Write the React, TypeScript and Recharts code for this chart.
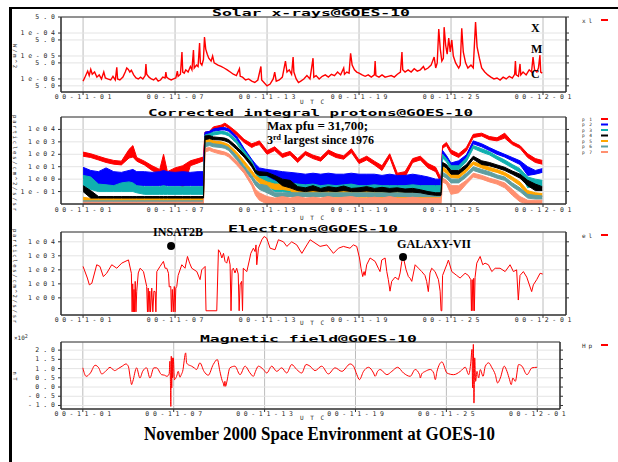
import React from 'react';
import {
  ComposedChart,
  Line,
  Area,
  XAxis,
  YAxis,
  CartesianGrid,
  ReferenceArea,
  ReferenceDot,
} from 'recharts';

// ---------- shared time axis (days since 2000-11-01 00:00 UTC) ----------
const dayTicks = [0, 6, 12, 18, 24, 30];
const dayTickLabels = ['00-11-01', '00-11-07', '00-11-13', '00-11-19', '00-11-25', '00-12-01'];
const dayDomain: [number, number] = [-1.44, 31.5];

// ---------- Solar x-rays (W/m^2) ----------
const xrayTicks = [5e-7, 1e-6, 5e-6, 1e-5, 5e-5, 1e-4, 5e-4];
const xrayTickLabels = ['5.0', '1e-06', '5.0', '1e-05', '5.0', '1e-04', '5.0'];
const xrayDomain: [number, number] = [2.7e-7, 5e-4];
const xrayDays = [
  0, 0.15, 0.3, 0.4, 0.5, 0.6, 0.75, 0.9, 1.05, 1.2, 1.35, 1.45, 1.6, 1.8, 1.95, 2.1, 2.2, 2.25, 2.4, 2.6,
  2.75, 2.85, 2.95, 3.05, 3.15, 3.3, 3.45, 3.6, 3.75, 3.9, 4.05, 4.1, 4.15, 4.3, 4.45, 4.6, 4.75, 4.9, 5.05, 5.2,
  5.35, 5.4, 5.45, 5.6, 5.75, 5.9, 6.05, 6.15, 6.2, 6.35, 6.45, 6.5, 6.6, 6.7, 6.85, 7.0, 7.1, 7.2, 7.25, 7.4,
  7.5, 7.6, 7.65, 7.75, 7.85, 7.92, 8.0, 8.1, 8.2, 8.35, 8.45, 8.55, 8.8, 9.0, 9.2, 9.4, 9.6, 9.8, 10.0, 10.2,
  10.25, 10.4, 10.6, 10.8, 11.0, 11.2, 11.4, 11.6, 11.65, 11.8, 12.0, 12.2, 12.4, 12.5, 12.6, 12.8, 13.0, 13.2, 13.3, 13.45,
  13.6, 13.7, 13.75, 13.9, 14.05, 14.2, 14.4, 14.6, 14.8, 15.0, 15.05, 15.2, 15.4, 15.6, 15.8, 16.0, 16.2, 16.4, 16.6, 16.8,
  17.0, 17.05, 17.2, 17.35, 17.45, 17.55, 17.7, 17.85, 18.0, 18.2, 18.4, 18.6, 18.8, 19.0, 19.05, 19.1, 19.3, 19.5, 19.7, 19.9,
  20.1, 20.3, 20.5, 20.7, 20.8, 20.85, 21.0, 21.2, 21.4, 21.6, 21.8, 22.0, 22.2, 22.3, 22.5, 22.7, 22.9, 23.0, 23.1, 23.2,
  23.3, 23.4, 23.5, 23.55, 23.65, 23.75, 23.85, 23.95, 24.05, 24.15, 24.3, 24.5, 24.6, 24.7, 24.8, 24.95, 25.1, 25.3, 25.45, 25.6,
  25.7, 25.85, 26.0, 26.2, 26.4, 26.6, 26.8, 27.0, 27.2, 27.4, 27.6, 27.8, 28.0, 28.15, 28.2, 28.25, 28.4, 28.5, 28.55, 28.7,
  28.9, 29.1, 29.25, 29.35, 29.45, 29.6, 29.7, 29.8, 29.85, 29.95,
];
const xrayFlux = [
  8e-7, 1.3e-6, 2.2e-6, 1.4e-6, 2.6e-6, 1.6e-6, 2.0e-6, 1.2e-6, 1.5e-6, 1.0e-6, 2.0e-6, 1.1e-6, 1.0e-6, 9e-7, 1.3e-6, 9e-7, 3.2e-6, 1.0e-6, 9e-7, 1.2e-6,
  2.0e-6, 3.0e-6, 2.6e-6, 2.0e-6, 2.4e-6, 1.5e-6, 1.1e-6, 1.0e-6, 1.2e-6, 1.0e-6, 1.4e-6, 4.5e-6, 1.6e-6, 1.2e-6, 1.0e-6, 9e-7, 1.1e-6, 8e-7, 9e-7, 1.2e-6,
  1.1e-6, 2.0e-6, 1.2e-6, 1.0e-6, 9e-7, 1.0e-6, 1.1e-6, 2.2e-6, 1.3e-6, 1.6e-6, 1.5e-5, 2.0e-6, 1.8e-6, 2.5e-6, 2.0e-6, 3.5e-6, 2.5e-6, 1.8e-5, 3.0e-6, 4.0e-6,
  3.5e-6, 3.7e-5, 5.0e-6, 4.0e-6, 7.0e-6, 6.7e-5, 2.0e-5, 1.2e-5, 8.0e-6, 6.0e-6, 1.0e-5, 5.0e-6, 4.0e-6, 3.5e-6, 3.0e-6, 2.5e-6, 2.0e-6, 1.6e-6, 1.4e-6, 2.8e-6,
  1.3e-6, 1.2e-6, 9e-7, 1.0e-6, 8e-7, 7e-7, 9e-7, 3.5e-6, 9e-7, 7e-7, 5e-7, 6e-7, 1.0e-6, 2.0e-6, 8e-7, 9e-7, 1.2e-6, 6e-6, 2.0e-6, 2.5e-6,
  1.6e-6, 9e-6, 2.0e-6, 1.0e-6, 7e-7, 8e-7, 1.0e-6, 1.4e-6, 1.0e-6, 8e-6, 1.2e-6, 1.4e-6, 1.0e-6, 1.3e-6, 1.5e-6, 1.2e-6, 1.6e-6, 1.4e-6, 2.0e-6, 1.5e-6,
  3.0e-6, 1.6e-6, 2.0e-6, 1.8e-6, 1.3e-5, 4.0e-6, 2.5e-6, 2.0e-6, 1.8e-6, 1.5e-6, 1.3e-6, 1.5e-6, 1.2e-6, 1.5e-6, 6e-6, 1.4e-6, 1.2e-6, 1.5e-6, 1.2e-6, 1.3e-6,
  1.4e-6, 1.2e-6, 1.6e-6, 2.0e-6, 1.5e-5, 2.5e-6, 2.0e-6, 2.5e-6, 2.0e-6, 2.8e-6, 2.2e-6, 2.5e-6, 3.5e-6, 2.5e-6, 3.0e-6, 4.0e-6, 9e-6, 3e-6, 5e-6, 1.5e-4,
  2e-5, 6e-6, 8e-6, 1.8e-4, 3e-5, 1.2e-5, 6e-5, 1.5e-5, 5e-5, 1e-5, 5e-6, 3e-6, 4e-6, 1.6e-4, 1.5e-5, 5e-6, 3e-6, 4e-6, 3e-6, 3e-4,
  2.5e-5, 8e-6, 3e-6, 2e-6, 1.5e-6, 1.2e-6, 1.0e-6, 1.1e-6, 9e-7, 1.2e-6, 1.0e-6, 1.3e-6, 1.1e-6, 1.6e-6, 6e-6, 1.5e-6, 1.3e-6, 4.5e-6, 1.5e-6, 2.0e-6,
  1.5e-6, 2.5e-6, 2.0e-6, 9e-6, 2.5e-6, 2.0e-6, 3.0e-6, 1.1e-5, 2.0e-6, 1.8e-6,
];

// ---------- Integral protons (particles/cm^2/s/sr), channels p1..p7 as low/high envelopes ----------
const protonTicks = [0.1, 1, 10, 100, 1e3, 1e4];
const protonTickLabels = ['1e-01', '1e00', '1e01', '1e02', '1e03', '1e04'];
const protonDomain: [number, number] = [0.01, 1e5];
const protonDays = [
  0, 0.5, 1, 1.5, 2, 2.5, 3, 3.25, 3.5, 4, 4.5, 5, 5.25, 5.5, 6, 6.5, 7, 7.5, 7.85,
  7.95, 8.25, 8.5, 9, 9.25, 9.5, 10, 10.5, 11, 11.25, 11.5,
  12, 12.5, 13, 13.5, 14, 14.5, 15, 15.5, 16, 16.5, 17, 17.5, 18, 18.5, 19, 19.5, 20, 20.5, 21, 21.5, 22, 22.5, 23,
  23.35, 23.45, 23.7, 24, 24.5, 25, 25.45, 26, 26.5, 27, 27.5, 28, 28.5, 29, 29.5, 29.95,
];
const p1Lo = [
  70, 55, 35, 22, 16, 14, 50, 60, 28, 14, 5, 2.5, 4, 1.5, 3, 0.15, 12, 20, 30,
  3000, 4000, 9000, 13000, 20000, 12000, 3500, 900, 350, 500, 600,
  100, 200, 55, 90, 22, 90, 45, 28, 110, 55, 40, 140, 18, 35, 14, 5, 55, 1.2, 1.5, 22, 35, 8, 4,
  0.5, 300, 500, 110, 55, 180, 2200, 3000, 1500, 1200, 2000, 600, 300, 55, 22, 16,
];
const p1Hi = [
  150, 110, 70, 45, 32, 28, 250, 500, 55, 28, 12, 6, 100, 4, 8, 12, 30, 45, 60,
  6000, 7000, 16000, 22000, 32000, 20000, 6500, 1600, 700, 900, 1200,
  200, 400, 110, 170, 45, 170, 85, 55, 220, 110, 75, 280, 35, 70, 28, 12, 110, 3, 4, 45, 70, 18, 9,
  1.2, 500, 900, 220, 110, 350, 4000, 5000, 2700, 2100, 5000, 1000, 500, 110, 45, 32,
];
const p2Lo = [
  1.2, 0.5, 0.35, 0.35, 0.3, 0.3, 0.3, 0.3, 0.3, 0.3, 0.3, 0.3, 0.3, 0.3, 0.3, 0.3, 0.3, 0.3, 0.3,
  4000, 4500, 7000, 9000, 9000, 7000, 1800, 150, 25, 8, 1.5,
  1, 0.8, 0.7, 0.5, 0.4, 0.3, 0.3, 0.25, 0.3, 0.25, 0.25, 0.3, 0.25, 0.2, 0.2, 0.2, 0.2, 0.2, 0.2, 0.2, 0.15, 0.15, 0.13,
  0.13, 100, 40, 8, 10, 40, 700, 400, 200, 100, 60, 30, 15, 2, 2.5, 3.5,
];
const p2Hi = [
  9, 5, 4, 8, 4, 3.5, 5, 6, 4, 4, 3.5, 4, 5, 4, 3.5, 4, 3.5, 4, 4,
  6000, 7000, 11000, 14000, 14000, 11000, 3000, 300, 40, 16, 8,
  6, 5, 4, 3.5, 3, 2.5, 3, 2.5, 3, 2.5, 2.5, 3, 2.5, 2.5, 2.5, 2, 2.5, 2, 2, 2.5, 2, 1.5, 1.0,
  1.0, 200, 80, 20, 30, 90, 1200, 700, 350, 180, 100, 55, 30, 10, 5, 7,
];
const p3Lo = [
  0.3, 0.15, 0.1, 0.1, 0.1, 0.1, 0.1, 0.1, 0.08, 0.06, 0.06, 0.06, 0.06, 0.06, 0.06, 0.06, 0.06, 0.06, 0.06,
  1800, 2500, 3500, 4500, 4000, 3000, 800, 100, 15, 3, 0.8,
  0.4, 0.1, 0.1, 0.08, 0.05, 0.05, 0.05, 0.05, 0.05, 0.05, 0.05, 0.05, 0.05, 0.05, 0.05, 0.05, 0.05, 0.05, 0.05, 0.05, 0.05, 0.05, 0.05,
  0.05, 50, 25, 6, 6, 25, 300, 150, 90, 40, 18, 8, 3.5, 0.2, 0.3, 0.3,
];
const p3Hi = [
  2, 1.5, 0.4, 0.35, 0.3, 0.5, 0.6, 0.5, 0.3, 0.25, 0.25, 0.25, 0.3, 0.25, 0.25, 0.25, 0.25, 0.25, 0.25,
  3500, 4500, 6000, 7000, 6500, 5000, 1400, 200, 30, 6, 3,
  1.5, 0.7, 0.6, 0.5, 0.4, 0.35, 0.4, 0.3, 0.35, 0.3, 0.35, 0.4, 0.3, 0.3, 0.35, 0.3, 0.3, 0.3, 0.3, 0.35, 0.3, 0.3, 0.3,
  0.3, 100, 45, 12, 12, 50, 500, 280, 160, 70, 35, 15, 7, 1.5, 1.0, 0.8,
];
const p4Lo = [
  0.1, 0.03, 0.03, 0.03, 0.03, 0.03, 0.03, 0.03, 0.03, 0.03, 0.03, 0.03, 0.03, 0.03, 0.03, 0.03, 0.03, 0.03, 0.03,
  1500, 1800, 1500, 1400, 1200, 900, 250, 60, 10, 3, 2,
  2, 1, 0.3, 0.2, 0.12, 0.1, 0.12, 0.1, 0.11, 0.1, 0.12, 0.1, 0.1, 0.11, 0.1, 0.1, 0.09, 0.1, 0.09, 0.09, 0.08, 0.06, 0.05,
  0.05, 12, 8, 2.5, 2.5, 8, 40, 15, 12, 8, 5, 2.5, 1.2, 0.3, 0.12, 0.12,
];
const p4Hi = [
  0.3, 0.12, 0.04, 0.04, 0.04, 0.04, 0.04, 0.04, 0.04, 0.04, 0.04, 0.04, 0.04, 0.04, 0.04, 0.04, 0.04, 0.04, 0.04,
  3000, 3200, 2500, 2200, 2000, 1500, 450, 100, 18, 5, 4,
  3.5, 2, 1, 0.8, 0.25, 0.2, 0.3, 0.18, 0.25, 0.2, 0.28, 0.18, 0.2, 0.25, 0.18, 0.22, 0.18, 0.2, 0.16, 0.18, 0.14, 0.1, 0.08,
  0.08, 22, 15, 5, 5, 15, 70, 30, 22, 14, 9, 4.5, 2.5, 0.8, 0.4, 0.25,
];
const p5Lo = [
  0.02, 0.018, 0.018, 0.018, 0.018, 0.018, 0.018, 0.018, 0.018, 0.018, 0.018, 0.018, 0.018, 0.018, 0.018, 0.018, 0.018, 0.018, 0.018,
  800, 900, 700, 600, 500, 350, 90, 15, 2.5, 1, 0.5,
  0.25, 0.15, 0.15, 0.12, 0.05, 0.04, 0.04, 0.04, 0.04, 0.035, 0.035, 0.04, 0.035, 0.035, 0.03, 0.03, 0.03, 0.03, 0.03, 0.03, 0.03, 0.03, 0.03,
  0.03, 5, 3, 1.3, 1.2, 4, 15, 8, 5, 3.5, 2, 0.8, 0.3, 0.05, 0.04, 0.04,
];
const p5Hi = [
  0.035, 0.028, 0.028, 0.028, 0.028, 0.028, 0.028, 0.028, 0.028, 0.028, 0.028, 0.028, 0.028, 0.028, 0.028, 0.028, 0.028, 0.028, 0.028,
  1500, 1600, 1200, 1000, 800, 600, 160, 30, 5, 2, 1.2,
  0.6, 0.4, 0.4, 0.35, 0.16, 0.13, 0.13, 0.13, 0.13, 0.1, 0.1, 0.13, 0.1, 0.1, 0.1, 0.09, 0.09, 0.09, 0.09, 0.09, 0.08, 0.07, 0.07,
  0.06, 10, 6, 2.5, 2.3, 8, 25, 15, 9, 6, 3.5, 1.5, 0.6, 0.12, 0.08, 0.07,
];
const p6Lo = [
  0.014, 0.014, 0.014, 0.014, 0.014, 0.014, 0.014, 0.014, 0.014, 0.014, 0.014, 0.014, 0.014, 0.014, 0.014, 0.014, 0.014, 0.014, 0.014,
  400, 500, 400, 350, 300, 200, 40, 6, 1, 0.3, 0.15,
  0.08, 0.04, 0.04, 0.04, 0.04, 0.04, 0.04, 0.04, 0.04, 0.04, 0.04, 0.04, 0.04, 0.04, 0.04, 0.04, 0.04, 0.04, 0.04, 0.04, 0.04, 0.04, 0.04,
  0.04, 1.8, 1.2, 0.5, 0.5, 1.5, 5, 3, 2, 1.2, 0.8, 0.25, 0.1, 0.03, 0.025, 0.025,
];
const p6Hi = [
  0.018, 0.018, 0.018, 0.018, 0.018, 0.018, 0.018, 0.018, 0.018, 0.018, 0.018, 0.018, 0.018, 0.018, 0.018, 0.018, 0.018, 0.018, 0.018,
  800, 900, 700, 600, 500, 350, 80, 12, 2, 0.7, 0.4,
  0.3, 0.08, 0.08, 0.08, 0.08, 0.08, 0.08, 0.08, 0.08, 0.08, 0.08, 0.08, 0.08, 0.08, 0.08, 0.08, 0.08, 0.08, 0.08, 0.08, 0.08, 0.08, 0.08,
  0.08, 3.5, 2.4, 1, 1, 3, 10, 6, 4, 2.2, 1.5, 0.5, 0.2, 0.06, 0.05, 0.045,
];
const p7Lo = [
  0.01, 0.01, 0.01, 0.01, 0.01, 0.01, 0.01, 0.01, 0.01, 0.01, 0.01, 0.01, 0.01, 0.01, 0.01, 0.01, 0.01, 0.01, 0.01,
  150, 200, 150, 100, 90, 60, 15, 3, 0.3, 0.05, 0.02,
  0.01, 0.01, 0.01, 0.01, 0.01, 0.01, 0.01, 0.01, 0.01, 0.01, 0.01, 0.01, 0.01, 0.01, 0.01, 0.01, 0.01, 0.01, 0.01, 0.01, 0.01, 0.01, 0.01,
  0.01, 0.6, 0.4, 0.06, 0.08, 0.4, 1.5, 1, 0.6, 0.4, 0.2, 0.05, 0.015, 0.01, 0.01, 0.01,
];
const p7Hi = [
  0.014, 0.014, 0.014, 0.014, 0.014, 0.014, 0.014, 0.014, 0.014, 0.014, 0.014, 0.014, 0.014, 0.014, 0.014, 0.014, 0.014, 0.014, 0.014,
  300, 350, 250, 180, 150, 110, 30, 6, 0.6, 0.15, 0.08,
  0.04, 0.03, 0.04, 0.03, 0.04, 0.03, 0.035, 0.03, 0.04, 0.03, 0.035, 0.04, 0.03, 0.03, 0.035, 0.03, 0.04, 0.03, 0.03, 0.035, 0.03, 0.03, 0.03,
  0.03, 1.2, 0.8, 0.3, 0.3, 0.8, 3, 2, 1.2, 0.8, 0.5, 0.15, 0.04, 0.02, 0.02, 0.02,
];
const protonChannels = ['p1', 'p2', 'p3', 'p4', 'p5', 'p6', 'p7'];
const protonColors = ['#ff0000', '#0000ff', '#10b0b0', '#000000', '#ffa500', '#5f9ea0', '#ff9070'];

// ---------- Electrons (particles/cm^2/s/sr) ----------
const electronTicks = [1, 10, 100, 1e3, 1e4];
const electronTickLabels = ['1e00', '1e01', '1e02', '1e03', '1e04'];
const electronDomain: [number, number] = [0.06, 5e4];
const electronDays = [
  0, 0.28, 0.41, 0.57, 0.89, 1.1, 1.32, 1.54, 1.87, 2.2, 2.52, 2.96, 3.15, 3.2, 3.24, 3.28, 3.32, 3.36, 3.4, 3.45,
  3.5, 3.6, 3.72, 3.94, 4.15, 4.2, 4.25, 4.3, 4.35, 4.4, 4.48, 4.55, 4.62, 4.7, 4.75, 4.81, 5.02, 5.24, 5.35, 5.46,
  5.57, 5.62, 5.72, 5.76, 5.82, 5.88, 5.95, 6.0, 6.05, 6.11, 6.2, 6.44, 6.65, 6.81, 6.95, 7.09, 7.42, 7.63, 7.74, 7.96,
  8.02, 8.72, 8.83, 8.94, 9.05, 9.16, 9.26, 9.37, 9.48, 9.59, 9.65, 9.72, 9.8, 9.91, 10.02, 10.12, 10.18, 10.24, 10.34, 10.4,
  10.45, 10.68, 10.85, 10.94, 11.11, 11.22, 11.28, 11.33, 11.44, 11.66, 11.81, 11.98, 12.2, 12.52, 12.74, 13.07, 13.29, 13.61, 13.94, 14.27,
  14.6, 14.81, 15.46, 15.9, 16.33, 16.66, 16.98, 17.41, 17.63, 17.85, 18.03, 18.13, 18.24, 18.33, 18.39, 18.5, 18.72, 19.05, 19.26, 19.37,
  19.48, 19.7, 19.81, 19.91, 20.02, 20.13, 20.35, 20.57, 20.68, 20.79, 20.9, 21.07, 21.22, 21.33, 21.44, 21.66, 21.88, 22.09, 22.3, 22.41,
  22.52, 22.63, 22.74, 22.96, 23.18, 23.29, 23.35, 23.4, 23.45, 23.72, 23.83, 24.05, 24.37, 24.59, 24.92, 25.13, 25.29, 25.33, 25.38, 25.43,
  25.48, 25.52, 25.57, 25.68, 25.9, 26.07, 26.22, 26.44, 26.66, 26.88, 27.2, 27.53, 27.85, 28.07, 28.28, 28.39, 28.5, 28.72, 28.94, 29.26,
  29.37, 29.59, 29.81, 29.98,
];
const electronFlux = [
  175, 26, 8.5, 11, 230, 175, 33, 57, 230, 130, 300, 510, 57, 0.1, 10, 0.1, 4, 0.1, 15, 0.1,
  3, 60, 130, 75, 6.5, 0.1, 5, 0.1, 3, 0.1, 5, 0.1, 3, 2.8, 0.1, 75, 175, 400, 130, 130,
  57, 6, 6.5, 0.1, 4, 0.1, 6.5, 0.1, 5, 6.5, 40, 230, 130, 900, 300, 130, 75, 20, 100, 175,
  0.12, 0.12, 2700, 1800, 700, 1500, 400, 300, 900, 230, 0.12, 100, 130, 60, 130, 50, 0.12, 8.5, 15, 0.12,
  130, 75, 500, 1500, 3500, 2000, 6000, 230, 3500, 14000, 24000, 18000, 3500, 2700, 14000, 10000, 4700, 10000, 6000, 1500,
  6000, 14000, 4700, 6000, 1500, 3500, 4700, 3500, 6000, 4700, 700, 130, 33, 75, 40, 230, 700, 400, 130, 75,
  500, 700, 75, 20, 3, 15, 30, 20, 60, 400, 700, 100, 33, 25, 15, 230, 130, 75, 40, 15,
  2.8, 60, 130, 75, 20, 3, 0.12, 0.12, 40, 230, 500, 75, 40, 26, 57, 40, 20, 0.12, 20, 0.12,
  25, 0.12, 30, 300, 900, 230, 300, 230, 75, 130, 130, 75, 230, 75, 100, 0.7, 40, 75, 30, 2.8,
  8.5, 20, 57, 50,
];
// satellite anomaly markers: [day, flux]
const insatMark = [5.74, 5000];
const galaxyMark = [20.87, 830];

// ---------- Magnetic field Hp (x10^2 nT) ----------
const magTicks = [-1, -0.5, 0, 0.5, 1, 1.5, 2];
const magTickLabels = ['-1.0', '-0.5', '0.0', '0.5', '1.0', '1.5', '2.0'];
const magDomain: [number, number] = [-1.19, 2.44];
const magDays = [
  0, 0.22, 0.5, 0.81, 1.05, 1.25, 1.5, 1.8, 2.1, 2.34, 2.6, 2.85, 3.0, 3.15, 3.22, 3.3, 3.55, 3.77, 3.95, 4.21,
  4.43, 4.69, 4.87, 5.2, 5.4, 5.55, 5.7, 5.75, 5.78, 5.81, 5.84, 5.87, 5.9, 5.93, 5.97, 6.05, 6.19, 6.3, 6.41, 6.5,
  6.59, 6.79, 6.85, 6.9, 7.18, 7.35, 7.51, 7.73, 8.0, 8.28, 8.61, 8.88, 9.05, 9.2, 9.27, 9.33, 9.38, 9.43, 9.49, 9.71,
  10.04, 10.38, 10.71, 11.04, 11.26, 11.4, 11.59, 11.92, 12.14, 12.47, 12.8, 13.13, 13.46, 13.79, 14.12, 14.45, 14.74, 15.0, 15.33, 15.77,
  16.21, 16.65, 17.1, 17.65, 17.87, 18.09, 18.26, 18.53, 18.86, 19.19, 19.3, 19.46, 19.63, 20.07, 20.4, 20.78, 21.17, 21.61, 21.94, 22.23,
  22.28, 22.37, 22.61, 22.94, 23.16, 23.27, 23.38, 23.71, 24.04, 24.48, 24.92, 25.25, 25.47, 25.62, 25.69, 25.73, 25.78, 25.82, 25.87, 25.93,
  26.02, 26.13, 26.24, 26.42, 26.57, 26.79, 27.01, 27.23, 27.38, 27.56, 27.82, 28.0, 28.17, 28.28, 28.39, 28.55, 28.77, 28.99, 29.32, 29.65,
  29.98,
];
const magHp = [
  1.04, 0.58, 0.76, 1.18, 1.04, 0.71, 0.85, 1.07, 0.89, 1.0, 1.13, 1.25, 1.13, 0.4, 0.13, 0.31, 1.04, 0.49, 0.85, 1.04,
  0.49, 1.04, 1.04, 0.67, 0.64, 0.58, 0.71, 1.4, 0.49, -1.05, 1.67, -0.05, 1.58, 0.49, 1.58, 0.4, 0.58, 0.85, 0.53, 0.67,
  0.85, 1.85, 1.31, 1.25, 1.13, 1.04, 0.95, 1.31, 0.85, 0.64, 1.22, 1.49, 0.85, 0.35, 0.22, 0.04, 0.31, 0.04, 0.22, 1.04,
  1.13, 0.67, 1.13, 0.76, 0.58, 0.85, 1.13, 0.95, 0.76, 1.13, 0.85, 1.04, 0.76, 1.22, 0.95, 0.76, 1.22, 1.13, 0.89, 1.13,
  0.71, 1.04, 0.85, 1.25, 1.13, 0.67, 0.4, 0.85, 1.07, 0.76, 0.58, 0.85, 0.95, 0.67, 0.85, 1.07, 0.76, 0.58, 0.95, 0.67,
  0.49, 0.71, 0.85, 0.95, 0.76, 0.4, 0.85, 1.36, 0.76, 0.67, 0.85, 1.07, 0.67, 1.4, 2.04, -0.05, 2.31, -0.87, 1.58, 0.31,
  0.85, 0.49, 0.95, 0.58, 1.13, 1.31, 1.04, 0.67, 0.22, 0.49, 1.13, 0.85, 0.4, 0.13, 0.49, 0.31, 1.22, 1.13, 0.67, 1.04,
  1.07,
];

// ---------- tables for the charts ----------
const xrayData = xrayDays.map((d, i) => ({ d, xl: xrayFlux[i] }));
const protonData = protonDays.map((d, i) => ({
  d,
  p1: [p1Lo[i], p1Hi[i]],
  p2: [p2Lo[i], p2Hi[i]],
  p3: [p3Lo[i], p3Hi[i]],
  p4: [p4Lo[i], p4Hi[i]],
  p5: [p5Lo[i], p5Hi[i]],
  p6: [p6Lo[i], p6Hi[i]],
  p7: [p7Lo[i], p7Hi[i]],
}));
const electronData = electronDays.map((d, i) => ({ d, el: electronFlux[i] }));
const magData = magDays.map((d, i) => ({ d, hp: magHp[i] }));

// ---------- styling helpers ----------
const mono = "'DejaVu Sans Mono', monospace";
const serif = "'Liberation Serif', 'Times New Roman', serif";
const tickGray = '#2a2a2a';
const frameColor = '#333';

const nearest = (arr: number[], v: number) => {
  let best = 0;
  arr.forEach((t, i) => {
    if (Math.abs(t - v) < Math.abs(arr[best] - v)) best = i;
  });
  return best;
};
const tickWidth = (s: string) => s.length * 7.4 - 2.5;

const makeXTick = (dy: number) => (props: any) => {
  const { x, y, payload } = props;
  const label = dayTickLabels[nearest(dayTicks, payload.value)];
  return (
    <text
      x={x}
      y={y + dy}
      textAnchor="middle"
      dominantBaseline="central"
      fill={tickGray}
      style={{ fontFamily: mono, fontSize: 6.5 }}
      textLength={tickWidth(label)}
      lengthAdjust="spacing"
    >
      {label}
    </text>
  );
};

const makeYTick = (ticks: number[], labels: string[]) => (props: any) => {
  const { x, y, payload } = props;
  const label = labels[nearest(ticks, payload.value)];
  return (
    <text
      x={x - 3}
      y={y}
      textAnchor="end"
      dominantBaseline="central"
      fill={tickGray}
      style={{ fontFamily: mono, fontSize: 6.5 }}
      textLength={tickWidth(label)}
      lengthAdjust="spacing"
    >
      {label}
    </text>
  );
};

const noTick = () => <g />;

type PanelSpec = {
  top: number;
  height: number;
  right: number;
  data: any[];
  yDomain: [number, number];
  yTicks: number[];
  yLabels: string[];
  log: boolean;
  xLabelDy: number;
  series: React.ReactNode[];
};

function Panel({ top, height, right, data, yDomain, yTicks, yLabels, log, xLabelDy, series }: PanelSpec) {
  const scale = log ? 'log' : 'linear';
  return (
    <div style={{ position: 'absolute', left: 0, top }}>
      <ComposedChart width={618} height={height} data={data} margin={{ top: 17, right, bottom: 0, left: 0 }}>
        <CartesianGrid horizontal={false} stroke="#bcbcbc" />
        <CartesianGrid vertical={false} stroke="#e4e4e4" />
        <XAxis
          dataKey="d"
          type="number"
          domain={dayDomain}
          ticks={dayTicks}
          interval={0}
          allowDataOverflow
          height={18}
          tickSize={3}
          tickMargin={0}
          tick={makeXTick(xLabelDy)}
          stroke={frameColor}
        />
        <YAxis
          type="number"
          scale={scale}
          domain={yDomain}
          ticks={yTicks}
          interval={0}
          allowDataOverflow
          width={61}
          tickSize={3}
          tickMargin={0}
          tick={makeYTick(yTicks, yLabels)}
          stroke={frameColor}
        />
        <YAxis
          yAxisId="r"
          orientation="right"
          type="number"
          scale={scale}
          domain={yDomain}
          ticks={yTicks}
          interval={0}
          allowDataOverflow
          width={10}
          tickSize={3}
          tick={noTick}
          stroke={frameColor}
        />
        {series}
        <ReferenceArea
          x1={dayDomain[0]}
          x2={dayDomain[1]}
          y1={yDomain[0]}
          y2={yDomain[1]}
          fill="none"
          stroke={frameColor}
          strokeWidth={1}
        />
      </ComposedChart>
    </div>
  );
}

// axis unit written along the left edge, reading downwards
function UnitLabel({ x, cy, len, text }: { x: number; cy: number; len: number; text: string }) {
  return (
    <text
      x={x}
      y={cy}
      transform={`rotate(90 ${x} ${cy})`}
      textAnchor="middle"
      dominantBaseline="central"
      fill={tickGray}
      style={{ fontFamily: mono, fontSize: 5.5 }}
      textLength={len}
      lengthAdjust="spacing"
    >
      {text}
    </text>
  );
}

function PanelTitle({ x, y, w, text }: { x: number; y: number; w: number; text: string }) {
  return (
    <text
      x={x}
      y={y}
      fill="#000"
      style={{ fontFamily: mono, fontSize: 8, fontWeight: 700 }}
      textLength={w}
      lengthAdjust="spacingAndGlyphs"
    >
      {text}
    </text>
  );
}

function LegendRow({ y, label, color, size }: { y: number; label: string; color: string; size: number }) {
  return (
    <g>
      <text x={582} y={y} dominantBaseline="central" fill={tickGray} style={{ fontFamily: mono, fontSize: size }} textLength={label.length * 5} lengthAdjust="spacing">
        {label}
      </text>
      <line x1={601} x2={608} y1={y} y2={y} stroke={color} strokeWidth={2} />
    </g>
  );
}

function UtcLabel({ y }: { y: number }) {
  return (
    <text x={300} y={y} fill={tickGray} style={{ fontFamily: mono, fontSize: 6 }} textLength={24} lengthAdjust="spacing">
      UTC
    </text>
  );
}

export default function App() {
  const protonOrder = [0, 1, 2, 4, 5, 6, 3];
  return (
    <div style={{ position: 'absolute', left: 0, top: 0, width: 618, height: 462, background: '#fff', overflow: 'hidden' }}>
      <Panel
        top={0}
        height={110}
        right={42}
        data={xrayData}
        yDomain={xrayDomain}
        yTicks={xrayTicks}
        yLabels={xrayTickLabels}
        log
        xLabelDy={2}
        series={[
          <Line key="xl" dataKey="xl" type="linear" stroke="#ff0000" strokeWidth={1.4} dot={false} isAnimationActive={false} />,
        ]}
      />
      <Panel
        top={100}
        height={122}
        right={42}
        data={protonData}
        yDomain={protonDomain}
        yTicks={protonTicks}
        yLabels={protonTickLabels}
        log
        xLabelDy={3}
        series={protonOrder.map((k) => (
          <Area
            key={protonChannels[k]}
            dataKey={protonChannels[k]}
            type="linear"
            stroke={protonColors[k]}
            strokeWidth={1}
            fill={protonColors[k]}
            fillOpacity={1}
            dot={false}
            activeDot={false}
            isAnimationActive={false}
          />
        ))}
      />
      <Panel
        top={215}
        height={118}
        right={42}
        data={electronData}
        yDomain={electronDomain}
        yTicks={electronTicks}
        yLabels={electronTickLabels}
        log
        xLabelDy={2}
        series={[
          <Line key="el" dataKey="el" type="linear" stroke="#ff0000" strokeWidth={1} dot={false} isAnimationActive={false} />,
          <ReferenceDot key="insat" x={insatMark[0]} y={insatMark[1]} r={4} fill="#000" stroke="none" />,
          <ReferenceDot key="galaxy" x={galaxyMark[0]} y={galaxyMark[1]} r={4} fill="#000" stroke="none" />,
        ]}
      />
      <Panel
        top={325}
        height={102}
        right={48}
        data={magData}
        yDomain={magDomain}
        yTicks={magTicks}
        yLabels={magTickLabels}
        log={false}
        xLabelDy={2}
        series={[
          <Line key="hp" dataKey="hp" type="monotone" stroke="#ff0000" strokeWidth={1} dot={false} isAnimationActive={false} />,
        ]}
      />

      <svg width={618} height={462} style={{ position: 'absolute', left: 0, top: 0, pointerEvents: 'none' }}>
        {/* page frame */}
        <rect x={10} y={7} width={608} height={2} fill="#000" />
        <rect x={9} y={7} width={3} height={455} fill="#000" />

        {/* panel titles */}
        <PanelTitle x={212} y={16.3} w={198} text="Solar x-rays@GOES-10" />
        <PanelTitle x={148} y={116} w={325} text="Corrected integral protons@GOES-10" />
        <PanelTitle x={228} y={231.5} w={170} text="Electrons@GOES-10" />
        <PanelTitle x={200} y={342} w={217} text="Magnetic field@GOES-10" />

        {/* UTC captions */}
        <UtcLabel y={104} />
        <UtcLabel y={219.5} />
        <UtcLabel y={325} />
        <UtcLabel y={420} />

        {/* axis units */}
        <UnitLabel x={14.5} cy={56} len={24} text="W/m^2" />
        <UnitLabel x={14.5} cy={163} len={96} text="particles/cm^2/s/sr" />
        <UnitLabel x={14.5} cy={276} len={94} text="particles/cm^2/s/sr" />
        <UnitLabel x={14.5} cy={376} len={9} text="nT" />
        <text x={14} y={340} fill={tickGray} style={{ fontFamily: mono, fontSize: 6 }}>
          ×10<tspan dy={-2.5} style={{ fontSize: 5 }}>2</tspan>
        </text>

        {/* flare classes */}
        <text x={531} y={32.3} fill="#000" style={{ fontFamily: serif, fontSize: 12, fontWeight: 700 }}>X</text>
        <text x={531} y={53.3} fill="#000" style={{ fontFamily: serif, fontSize: 12, fontWeight: 700 }}>M</text>
        <text x={531} y={78.3} fill="#000" style={{ fontFamily: serif, fontSize: 12, fontWeight: 700 }}>C</text>

        {/* legends */}
        <LegendRow y={20} label="xl" color="#ff0000" size={6} />
        {protonChannels.map((p, i) => (
          <LegendRow key={p} y={119 + i * 5.5} label={p} color={protonColors[i]} size={4.5} />
        ))}
        <LegendRow y={235} label="el" color="#ff0000" size={6} />
        <LegendRow y={345} label="Hp" color="#ff0000" size={6} />

        {/* event notes */}
        <text x={267} y={129.5} fill="#000" style={{ fontFamily: serif, fontSize: 12, fontWeight: 700 }} textLength={101} lengthAdjust="spacingAndGlyphs">
          Max pfu = 31,700;
        </text>
        <text x={267} y={143.5} fill="#000" style={{ fontFamily: serif, fontSize: 12, fontWeight: 700 }}>
          3<tspan dy={-4} style={{ fontSize: 8 }}>rd</tspan>
          <tspan dy={4}> largest since 1976</tspan>
        </text>
        <text x={153} y={236} fill="#000" style={{ fontFamily: serif, fontSize: 12, fontWeight: 700 }} textLength={50} lengthAdjust="spacingAndGlyphs">
          INSAT2B
        </text>
        <text x={397} y={247.5} fill="#000" style={{ fontFamily: serif, fontSize: 12, fontWeight: 700 }} textLength={74} lengthAdjust="spacingAndGlyphs">
          GALAXY-VII
        </text>

        {/* figure caption */}
        <text x={144} y={440} fill="#000" style={{ fontFamily: serif, fontSize: 18, fontWeight: 700 }} textLength={351} lengthAdjust="spacingAndGlyphs">
          November 2000 Space Environment at GOES-10
        </text>
      </svg>
    </div>
  );
}
